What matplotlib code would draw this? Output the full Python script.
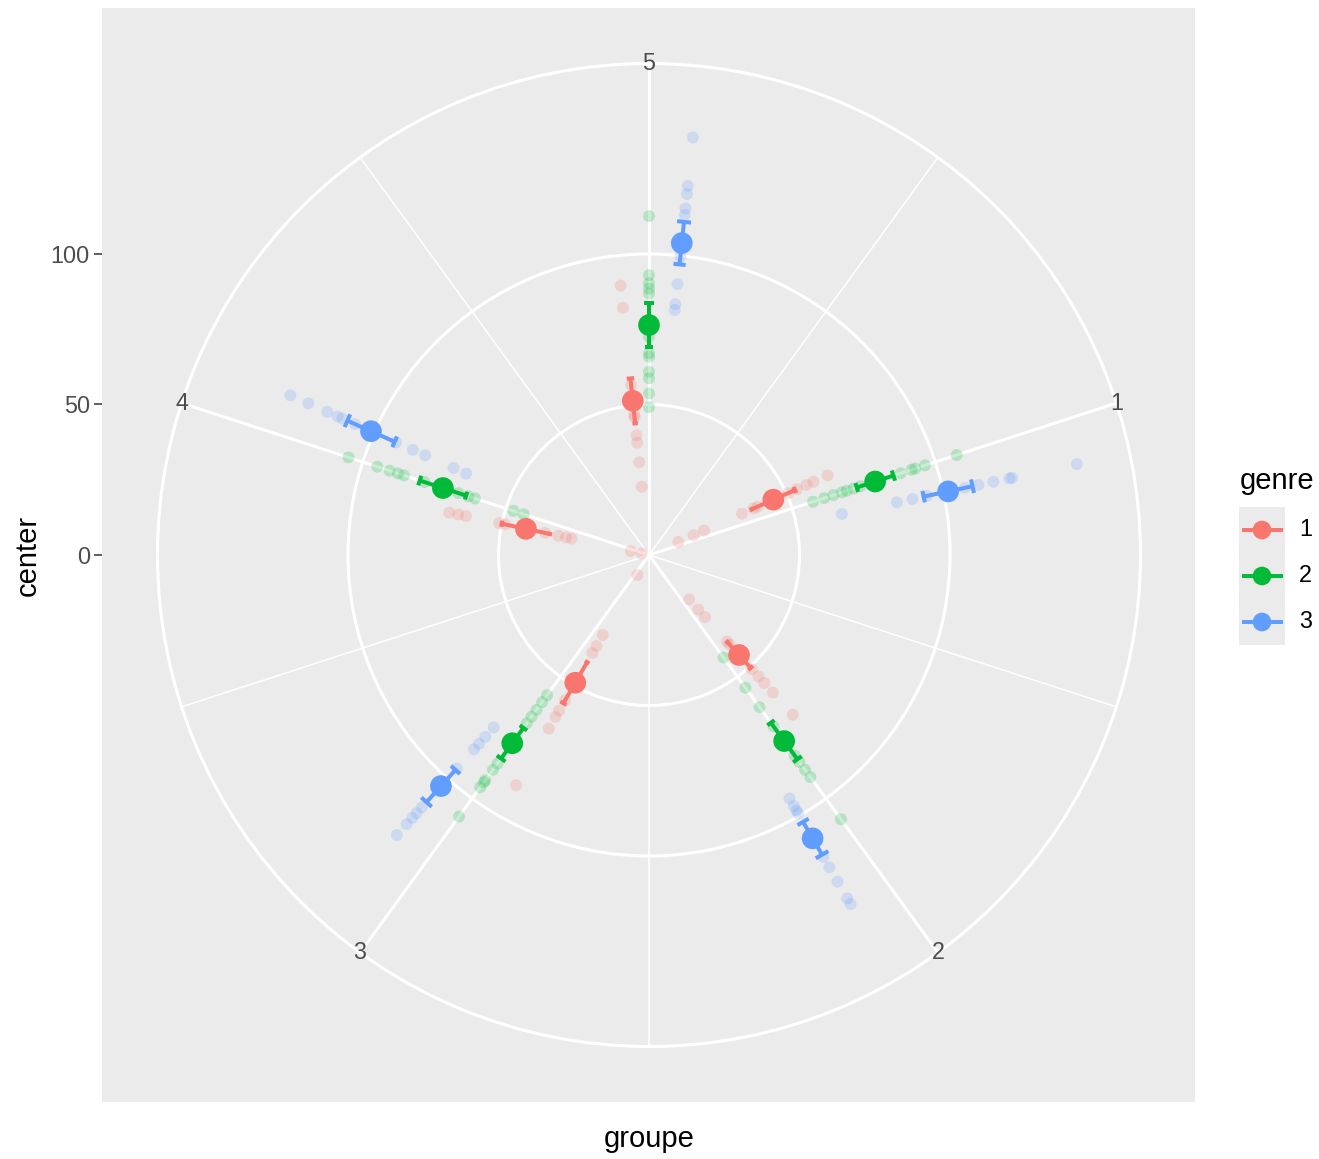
import numpy as np
import matplotlib.pyplot as plt

# ---------------------------------------------------------------------------
# Data: one list per groupe 1..5, per genre
# ---------------------------------------------------------------------------
groupes = [1, 2, 3, 4, 5]
genres = ["1", "2", "3"]
colors = ["#F8766D", "#00BA38", "#619CFF"]

center_genre1 = [
    [10.7, 16.2, 20.0, 33.8, 38.0, 39.5, 50.6, 53.8, 57.3, 59.8, 65.0],
    [19.9, 24.4, 27.8, 38.7, 40.0, 51.0, 54.3, 57.2, 61.5, 71.4],
    [7.7, 30.7, 34.9, 37.6, 55.7, 59.7, 62.1, 66.6, 88.3],
    [2.5, 6.2, 26.3, 28.2, 30.8, 35.3, 48.9, 50.9, 62.2, 64.8, 67.9],
    [22.8, 31.0, 37.5, 40.0, 46.0, 46.8, 56.8, 82.6, 90.0],
]
center_genre2 = [
    [57.3, 61.2, 64.4, 67.4, 69.1, 71.5, 73.9, 87.9, 91.7, 93.0, 96.4, 107.5],
    [42.1, 54.5, 62.5, 70.4, 82.3, 85.0, 88.2, 91.2, 108.5],
    [57.6, 60.4, 63.6, 66.4, 69.1, 85.7, 88.2, 92.5, 93.3, 95.4, 107.4],
    [43.8, 47.4, 60.8, 63.1, 66.6, 78.4, 85.6, 87.7, 90.6, 94.9, 105.0],
    [49.1, 53.7, 58.7, 60.9, 65.9, 67.0, 72.5, 86.9, 88.5, 90.3, 93.0, 112.6],
]
center_genre3 = [
    [65.5, 84.2, 89.5, 94.4, 107.3, 111.9, 117.0, 122.4, 123.3, 145.3],
    [93.4, 96.3, 98.0, 99.1, 115.8, 119.8, 125.3, 131.7, 133.9],
    [77.1, 81.3, 84.4, 86.9, 95.4, 112.8, 115.4, 117.5, 120.3, 125.2],
    [66.5, 71.1, 81.4, 85.9, 92.0, 106.9, 111.5, 113.3, 117.0, 123.9, 130.4],
    [81.8, 83.8, 90.5, 99.7, 113.6, 115.8, 120.6, 123.3, 139.5],
]
center_points = [center_genre1, center_genre2, center_genre3]

mean_genre = [
    [45.2, 44.7, 49.0, 41.8, 51.5],
    [79.0, 76.4, 77.3, 72.0, 76.4],
    [101.6, 108.7, 103.3, 101.1, 104.2],
]
se_genre = [
    [7.9, 5.8, 7.9, 8.2, 7.5],
    [6.4, 7.5, 6.3, 8.1, 7.3],
    [8.3, 6.3, 7.2, 8.6, 7.1],
]

r_ticks = [0, 50, 100]

# ---------------------------------------------------------------------------
# Layout (pixels of the 1319x1159 output)
# ---------------------------------------------------------------------------
W, H, DPI = 1319, 1159, 100
PX_PER_UNIT = 3.01
CX, CY, RAD = 649, 555, 491.5
R_OUT = RAD / PX_PER_UNIT
DODGE = 0.25          # x units, 1 unit = 72 degrees
ERR_W = 0.1 / 3
PANEL_BG = "#EBEBEB"

plt.rcParams["font.family"] = ["Liberation Sans", "DejaVu Sans"]


def frac(x0, y0, x1, y1):
    return [x0 / W, 1 - y1 / H, (x1 - x0) / W, (y1 - y0) / H]


def theta(x):
    return np.deg2rad(np.asarray(x) * 72.0)


fig = plt.figure(figsize=(W / DPI, H / DPI), dpi=DPI)

# grey panel with the radial axis on the left
bg = fig.add_axes(frac(102, 8, 1195, 1102))
bg.set_facecolor(PANEL_BG)
bg.set_xlim(0, 1)
bg.set_ylim(-(1102 - CY) / PX_PER_UNIT, (CY - 8) / PX_PER_UNIT)
bg.set_xticks([])
bg.set_yticks(r_ticks)
bg.tick_params(axis="y", length=5.8, width=1.1, color="#333333",
               labelcolor="#4D4D4D", labelsize=16.8, pad=2.9)
for s in bg.spines.values():
    s.set_visible(False)

# polar plot on top
ax = fig.add_axes(frac(CX - RAD, CY - RAD, CX + RAD, CY + RAD), projection="polar")
ax.set_facecolor("none")
ax.set_theta_zero_location("N")
ax.set_theta_direction(-1)
ax.set_ylim(0, R_OUT)
ax.set_xticks(theta(groupes))
ax.set_xticklabels([])
ax.set_xticks(theta(np.array(groupes) - 0.5), minor=True)
ax.set_yticks(r_ticks[1:])
ax.set_yticklabels([])
ax.xaxis.grid(True, which="major", color="white", lw=2.2)
ax.xaxis.grid(True, which="minor", color="white", lw=1.1)
ax.yaxis.grid(True, color="white", lw=2.2)
ax.tick_params(axis="x", which="both", length=0)
ax.spines["polar"].set_color("white")
ax.spines["polar"].set_linewidth(2.2)
ax.set_axisbelow(True)

# theta labels sit on the outer circle, as ggplot does
for g in groupes:
    ax.text(theta(g), R_OUT, str(g), ha="center", va="center",
            fontsize=16.8, color="#4D4D4D", zorder=5)

for k, col in enumerate(colors):
    off = (k - 1) * DODGE / 3
    for gi, g in enumerate(groupes):
        vals = center_points[k][gi]
        ax.scatter(np.full(len(vals), theta(g + off)), vals, s=74, color=col,
                   alpha=0.22, edgecolors="none", zorder=2)
    th = theta(np.array(groupes) + off)
    m = np.array(mean_genre[k])
    se = np.array(se_genre[k])
    ax.vlines(th, m - se, m + se, colors=col, lw=2.9, zorder=3)
    d = theta(ERR_W / 2)
    ax.hlines(np.concatenate([m - se, m + se]), np.concatenate([th - d, th - d]),
              np.concatenate([th + d, th + d]), colors=col, lw=2.9, zorder=3)
    ax.scatter(th, m, s=243, color=col, edgecolors="none", zorder=4)

# axis titles
fig.text(28 / W, 1 - CY / H, "center", rotation=90, ha="center", va="center", fontsize=21)
fig.text(CX / W, 1 - 1139 / H, "groupe", ha="center", va="center", fontsize=21)

# legend
fig.text(1240 / W, 1 - 481 / H, "genre", ha="left", va="center", fontsize=21)
leg = fig.add_axes(frac(1239, 507, 1285, 645))
leg.set_facecolor(PANEL_BG)
leg.set_xlim(0, 1)
leg.set_ylim(len(genres), 0)
leg.axis("off")
leg.add_patch(plt.Rectangle((0, 0), 1, len(genres), color=PANEL_BG, zorder=0))
for i, (lab, col) in enumerate(zip(genres, colors)):
    leg.plot([0.11, 0.92], [i + 0.5, i + 0.5], color=col, lw=2.9, zorder=2)
    leg.scatter([0.5], [i + 0.5], s=180, color=col, edgecolors="none", zorder=3)
    fig.text(1299 / W, 1 - (507 + 46 * (i + 0.5)) / H, lab, ha="left", va="center",
             fontsize=16.8)

fig.savefig("out.png", dpi=DPI)
